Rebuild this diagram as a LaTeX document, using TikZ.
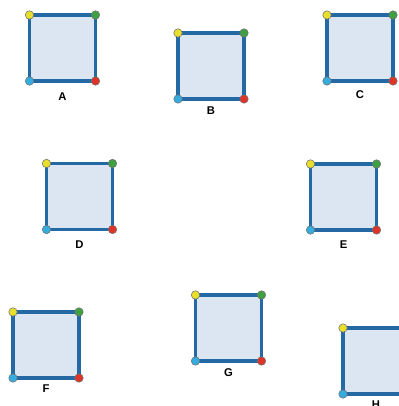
\documentclass[tikz,border=0pt]{standalone}
\usepackage{fontspec}
\setmainfont{Liberation Sans}
\usetikzlibrary{positioning}
\definecolor{edgeblue}{RGB}{36,104,164}
\definecolor{fillblue}{RGB}{219,230,242}
\definecolor{dotyellow}{RGB}{232,222,44}
\definecolor{dotgreen}{RGB}{62,160,64}
\definecolor{dotred}{RGB}{222,52,40}
\definecolor{dotcyan}{RGB}{52,172,222}

\begin{document}
\begin{tikzpicture}[
  x=0.025cm, y=-0.025cm,
  sq/.style={draw=edgeblue, fill=fillblue, line width=2.5pt, minimum size=1.65cm, inner sep=0pt, outer sep=0pt},
  tag/.style={font=\bfseries\fontsize{8}{9}\selectfont, inner sep=0pt},
  dot/.style={circle, draw=black!55, line width=0.4pt, minimum size=6pt, inner sep=0pt},
]

\useasboundingbox (0,0) rectangle (399,406);
\clip (0,0) rectangle (399,406);

%% Squares with coloured corners
\foreach \nm/\cx/\cy/\dy in {A/62.5/48/16, B/211/66/12, C/360/48/14, D/79.5/196.5/15,
                             E/343.5/197/15, F/46/345/11, G/228.5/328/12, H/376/361/11} {
  \node[sq] (sq\nm) at (\cx,\cy) {};
  \node[dot, fill=dotyellow] (tl\nm) at (sq\nm.north west) {};
  \node[dot, fill=dotgreen]  (tr\nm) at (sq\nm.north east) {};
  \node[dot, fill=dotred]    (br\nm) at (sq\nm.south east) {};
  \node[dot, fill=dotcyan]   (bl\nm) at (sq\nm.south west) {};
  \node[tag] (lbl\nm) at ([yshift=-\dy*0.025cm]sq\nm.south) {\nm};
}

\end{tikzpicture}
\end{document}
